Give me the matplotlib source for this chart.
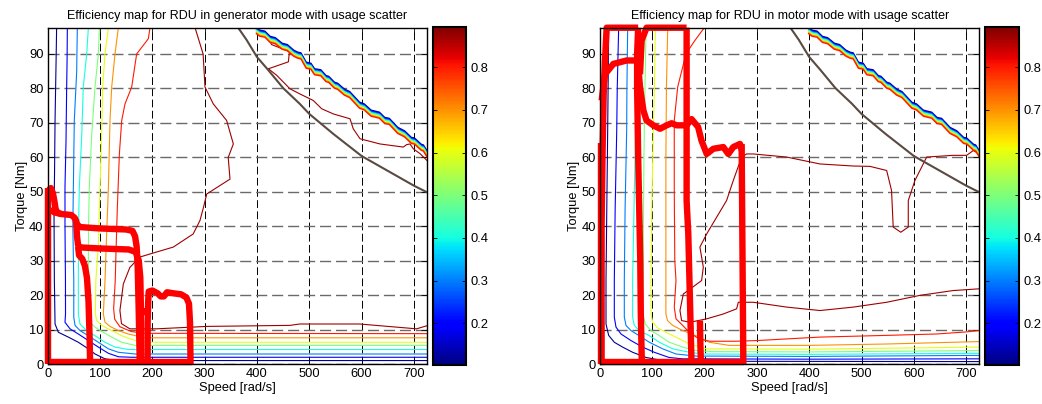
import matplotlib
matplotlib.use("Agg")
import matplotlib.pyplot as plt
from matplotlib.colors import Normalize
from matplotlib import colorbar

plt.rcParams['font.family'] = ['Liberation Sans', 'DejaVu Sans']

# ---------------- data ----------------
XTICKS = [0, 100, 200, 300, 400, 500, 600, 700]
YTICKS = [0, 10, 20, 30, 40, 50, 60, 70, 80, 90]
CB_TICKS = [0.2, 0.3, 0.4, 0.5, 0.6, 0.7, 0.8]
EFF_MIN, EFF_MAX = 0.1026, 0.894
LEVELS = [0.12, 0.2, 0.3, 0.4, 0.5, 0.6, 0.7, 0.8, 0.87]

# generator-mode contour lines (speed, torque), one per level
gen_c012 = [(17,97.5),(16,88),(14.5,75),(14,70.6),(13,55),(12,45),(12.5,30),(12.7,24.2),(14,11.6),(20.3,9.2),(39.4,7.8),(58.5,6.3),(77.6,4.4),(90.4,2.9),(109.5,1.5),(135,1.0),(725,1.0)]
gen_c020 = [(37.5,97.5),(37,88),(36.2,80.3),(35,65),(33,51.3),(33,40),(33.9,24.2),(34,14.5),(33,12.1),(42.6,10.2),(58.5,8.7),(77.6,6.8),(96.8,4.9),(116,3.1),(135,2.1),(160,1.95),(725,1.95)]
gen_c030 = [(56.6,97.5),(55.8,90),(55.4,84.9),(50.8,70.6),(49,51.3),(48,40),(49.8,24.2),(49.8,13.6),(52.2,11.2),(61.7,9.7),(77.6,8.2),(96.8,6.3),(116,4.4),(135,3.4),(167,2.9),(725,2.9)]
gen_c040 = [(77.7,97.5),(74.5,89.9),(68,80.3),(65,66.2),(60.4,51.3),(59,40),(58.5,24.2),(58.5,14.5),(61.7,11.6),(74.4,9.7),(90.4,8.2),(109.5,6.3),(128.6,4.9),(154,4.2),(725,4.2)]
gen_c050 = [(98.7,97.5),(96.8,89.9),(90.4,80.3),(84,66.2),(79.5,51.3),(78,40),(77.6,24.2),(77.6,14.5),(80.8,12.1),(90.4,10.7),(106.3,9.2),(122.3,7.8),(141.4,6.3),(167,5.4),(725,5.4)]
gen_c060 = [(116,97.5),(109.5,89.9),(105,80.3),(103,66.2),(100,51.3),(97,35),(92,24.2),(91,14.5),(93.6,12.6),(103.1,11.2),(122.3,9.7),(141.4,8.2),(167,6.8),(192.3,6.3),(725,6.3)]
gen_c070 = [(135,97.5),(128.6,89.9),(122.3,80.3),(119,70.6),(116,51.3),(112,35),(109.5,24.2),(106.3,14.5),(109.5,12.1),(119,10.9),(135,9.7),(154,8.7),(185.9,7.6),(725,7.6)]
gen_c080 = [(195.5,97.5),(192.3,94.3),(170,89.9),(160.5,80.3),(147.7,75.4),(141.4,70.6),(137,61),(133,45),(131,35),(129,24),(126,16),(128,13),(138,10.8),(160,9.4),(186,8.9),(725,8.8)]
gen_c087 = [(281.6,97.5),(297,89.9),(300.6,80.3),(316.5,75.4),(342,70.6),(354.8,63.8),(345,59.9),(348.4,53.6),(304,49.3),(297,45),(291,41.6),(278,37.7),(240,33.9),(195.5,31.9),(176,31),(157,28),(144.5,23.2),(138,15.5),(141,11.7),(157,10.2),(208,10.2),(304,10.9),(463,11.2),(482,11.6),(596,11.6),(705,10.2),(725,11.1)]
gen_c087b = [(418.6,95.2),(428,92.6),(456.8,90.9),(462,90.5),(460,87.6),(421.8,85.6),(437.7,83.7),(463,79.8),(482,78.3),(507.6,76.4),(523.7,74.0),(546,72.5),(577.8,71.1),(584,68.2),(597,65.3),(635,63.8),(679.7,62.9),(686,63.6),(692.5,63.8),(698.8,62.4),(711.6,61),(725,59)]

# motor-mode contour lines
mot_c012 = [(16.6,97.5),(15.5,80),(14.7,67.7),(13,45),(11.5,24.2),(11.5,11.6),(16.6,8.3),(27.4,6.3),(43.3,4.9),(62.4,3.4),(88,1.9),(119.8,1.0),(160,0.8),(725,0.7)]
mot_c020 = [(35.7,97.5),(33,80),(32,67.7),(29,45),(27.4,24.2),(27.4,13.6),(30.6,10.7),(40.2,8.7),(59.2,6.8),(81.5,4.9),(103.8,3.4),(132,1.9),(157.6,1.5),(400,1.4),(725,1.5)]
mot_c030 = [(52.9,97.5),(51.5,80),(51,67.7),(48,45),(46.5,24.2),(46.5,13.6),(49.7,11.2),(59.2,9.7),(75,8.2),(94.4,6.3),(119.8,4.4),(145.3,2.9),(183.5,2.3),(400,2.2),(725,2.5)]
mot_c040 = [(70,97.5),(69,80),(68,67.7),(65,45),(62.4,24.2),(62.4,13.6),(65.6,11.2),(75,9.7),(94.4,8.2),(113.5,6.3),(139,4.4),(171,3.4),(196.2,2.9),(400,2.8),(725,3.1)]
mot_c050 = [(88,97.5),(86,80),(84,60),(83,40),(83,24.2),(82,14.5),(86.6,11.6),(97.5,9.7),(113.5,8.2),(132.5,6.3),(158,4.9),(183.5,3.9),(215,3.6),(400,3.5),(725,3.9)]
mot_c060 = [(106,97.5),(104,80),(102,67.7),(99,45),(97.5,24.2),(97.5,14.5),(100.7,12.1),(110,10.5),(126,9.2),(145,7.8),(171,5.8),(203,4.4),(400,4.3),(725,4.9)]
mot_c070 = [(129.5,97.5),(127,80),(126,60),(126,24.2),(126,14.5),(129,12.6),(138.9,11.2),(158,9.7),(183.5,8.2),(209,6.3),(247,5.4),(400,5.4),(548,5.8),(725,6.5)]
mot_c080 = [(199.4,97.5),(180,93.5),(164.4,89.9),(148.5,80.3),(142,70.6),(142,50),(143,30),(145.3,24.2),(142,16.5),(145.3,13.1),(158,11.2),(172,9),(190,7.2),(210,6.6),(260,6.6),(300,6.8),(420,7.8),(548,8.3),(643,8.7),(700,9.3),(725,9.7)]
mot_c087 = [(725,60.9),(713.6,61.9),(700.8,60.5),(675.3,60.5),(624.4,60.0),(602,53.2),(589.3,47.4),(589.3,39.7),(575,38.2),(560.5,39.7),(557.3,50.3),(548,56.1),(516,57.3),(484.2,57.4),(420.5,58.0),(356.8,60.0),(293,60.9),(280.3,60.9),(270.8,60.0),(254.8,53.2),(242,47.4),(203.9,37.7),(191,33.9),(197.5,28.1),(194.3,24.2),(159.3,20.3),(152.9,15.5),(156,12.6),(172,12.1),(203.9,13.1),(235.7,14.5),(261.2,16.0),(264.4,17.9),(293,17.9),(356.8,16.5),(420.5,15.5),(484.2,16.5),(548,17.9),(611.6,19.9),(675.3,21.3),(725,21.8)]

# stair-stepped field-weakening edge where all levels crowd together
band_speed = [399,405,415,425,435,448,458,470,478,484,494,503,510,522,532,537,548,554,567,577,596,605,618,634,644,653,669,682,695,701,714,718,725]
band_torque = [97.5,96.8,96.5,95.0,94.6,93.0,92.6,91.0,90.4,90.2,87.5,87.2,85.6,85.3,83.6,83.4,81.7,81.4,79.7,79.0,75.9,75.4,73.6,73.0,71.5,71.2,68.6,67.6,65.7,65.5,63.7,63.5,61.8]
band_offsets = [0.0, -0.25, -0.5, -0.75, -1.0, -1.25, -1.5, -1.75]

# maximum torque envelope
env_speed = [364, 380, 400, 420, 450, 482, 500, 546, 600, 650, 700, 725]
env_torque = [97.5, 94, 89, 85.5, 80, 75.4, 72.5, 66.7, 60.3, 56, 51.7, 49.8]

# usage scatter traces, generator mode
gen_tr_v = [(1,0),(1,51)]
gen_tr_h = [(0,0.5),(276,0.5)]
gen_tr_cluster = [(2,50.5),(6,51),(10,49.5),(13,47),(15,45),(18,44),(25,43.5)]
gen_tr_1 = [(5,45),(12,44),(25,43.5),(45,43.2),(52,42.3),(56,40.5),(62,39.7),(100,39.3),(150,39),(162,38.6),(167,37),(170,34),(172,28),(174,15),(176,0)]
gen_tr_2 = [(54,42),(56,37),(58,34.5),(63,33.8),(100,33.5),(155,33.2),(168,32.5),(174,30),(177,25),(178,17),(179,0)]
gen_tr_3 = [(58,34),(60,31.5),(66,30.5),(71,28.5),(75,25),(78,18),(80,8),(81,0)]
gen_tr_4 = [(178,16),(183,15),(188,15.5)]
gen_tr_5 = [(191,0),(191,12),(192,18),(193,21),(200,21.3),(210,20.5),(216,19.6),(222,19.6),(228,20.8),(240,20.5),(255,20.2),(265,19.3),(270,17.5),(272,12),(273,0)]

# usage scatter traces, motor mode
mot_tr_v = [(1,0),(1,64)]
mot_tr_h = [(0,0.5),(276,0.5)]
mot_tr_left = [(3,0),(3,40),(5,62),(7,78),(9.6,88),(12.7,97.5),(73,97.5)]
mot_tr_col75 = [(73,97.5),(71,90),(71,80),(73,60),(75,45),(77,30),(78,15),(80,0)]
mot_tr_curve = [(3.2,76.4),(9.6,84),(25.5,87),(51,88),(70,88),(73.3,86),(76.5,80.3),(83,73.5),(89,70.6),(102,69.2),(114.7,68.2),(127.4,69.2),(137,69.8),(146.5,69.2),(165.6,69.2),(175,71),(187.6,68.7),(194,64.8),(204,60.9),(216.6,62.4),(235.7,62.9),(245.3,60.9),(254.8,62.9),(267.6,63.8),(271,62)]
mot_tr_arc = [(76.5,84),(79.6,93.8),(89,97.5),(165.6,97.5)]
mot_tr_col170 = [(165.6,97.5),(165.6,47.4),(168.8,37.7),(172,18.4),(175,0)]
mot_tr_col270 = [(270.8,63.8),(272,40),(273,20),(274,0)]
mot_tr_col190 = [(191,12.6),(192,5),(193,0)]

GEN_CONTOURS = [gen_c012, gen_c020, gen_c030, gen_c040, gen_c050, gen_c060, gen_c070, gen_c080, gen_c087]
MOT_CONTOURS = [mot_c012, mot_c020, mot_c030, mot_c040, mot_c050, mot_c060, mot_c070, mot_c080, mot_c087]
GEN_TRACES = [gen_tr_v, gen_tr_h, gen_tr_cluster, gen_tr_1, gen_tr_2, gen_tr_3, gen_tr_4, gen_tr_5]
MOT_TRACES = [mot_tr_v, mot_tr_h, mot_tr_left, mot_tr_col75, mot_tr_curve, mot_tr_arc, mot_tr_col170, mot_tr_col270, mot_tr_col190]

# ---------------- drawing ----------------
cmap = plt.get_cmap('jet')
norm = Normalize(EFF_MIN, EFF_MAX)

fig = plt.figure(figsize=(10.42, 4.04), dpi=100)


def draw_panel(ax_rect, cb_rect, title, contours, extra, traces):
    ax = fig.add_axes(ax_rect)
    for lvl, pts in zip(LEVELS, contours):
        xs, ys = zip(*pts)
        ax.plot(xs, ys, color=cmap(norm(lvl)), lw=0.8, zorder=2)
    for pts in extra:
        xs, ys = zip(*pts)
        ax.plot(xs, ys, color=cmap(norm(LEVELS[-1])), lw=0.8, zorder=2)
    for lvl, off in zip(LEVELS[:-1], band_offsets):
        ax.plot(band_speed, [t + off for t in band_torque], color=cmap(norm(lvl)), lw=1.0, zorder=2)
    ax.plot(env_speed, env_torque, color='#5a4a42', lw=1.5, zorder=3)
    for pts in traces:
        xs, ys = zip(*pts)
        ax.plot(xs, ys, color='#ff0000', lw=4.6, solid_capstyle='butt', solid_joinstyle='round', zorder=4, clip_on=False)
    ax.set_xlim(0, 725)
    ax.set_ylim(0, 97.5)
    ax.set_xticks(XTICKS)
    ax.set_yticks(YTICKS)
    ax.tick_params(direction='in', top=True, right=True, length=4, width=0.6, labelsize=9.3, pad=3)
    ax.xaxis.grid(True, color='black', ls=(0, (8, 3.5)), lw=0.7)
    ax.yaxis.grid(True, color='#6a6a6a', ls=(0, (8, 3.5)), lw=1.0)
    ax.set_axisbelow(True)
    for s in ax.spines.values():
        s.set_linewidth(1.0)
        s.set_zorder(5)
    ax.set_title(title, fontsize=9.0, pad=6)
    ax.set_xlabel('Speed [rad/s]', fontsize=9.3, labelpad=1)
    ax.set_ylabel('Torque [Nm]', fontsize=9.3, labelpad=1)

    cax = fig.add_axes(cb_rect)
    cb = colorbar.ColorbarBase(cax, cmap=cmap, norm=norm, ticks=CB_TICKS)
    cb.outline.set_linewidth(1.5)
    cax.tick_params(direction='in', left=True, right=True, length=3, width=0.6, labelsize=9.3)
    cax.set_yticklabels([f'{t:.1f}' for t in CB_TICKS])
    return ax


draw_panel([0.0458, 0.099, 0.364, 0.8324], [0.4155, 0.097, 0.0317, 0.836],
           'Efficiency map for RDU in generator mode with usage scatter',
           GEN_CONTOURS, [gen_c087b], GEN_TRACES)
draw_panel([0.5758, 0.099, 0.364, 0.8324], [0.9456, 0.097, 0.0323, 0.836],
           'Efficiency map for RDU in motor mode with usage scatter',
           MOT_CONTOURS, [], MOT_TRACES)

fig.savefig('out.png', dpi=100)
